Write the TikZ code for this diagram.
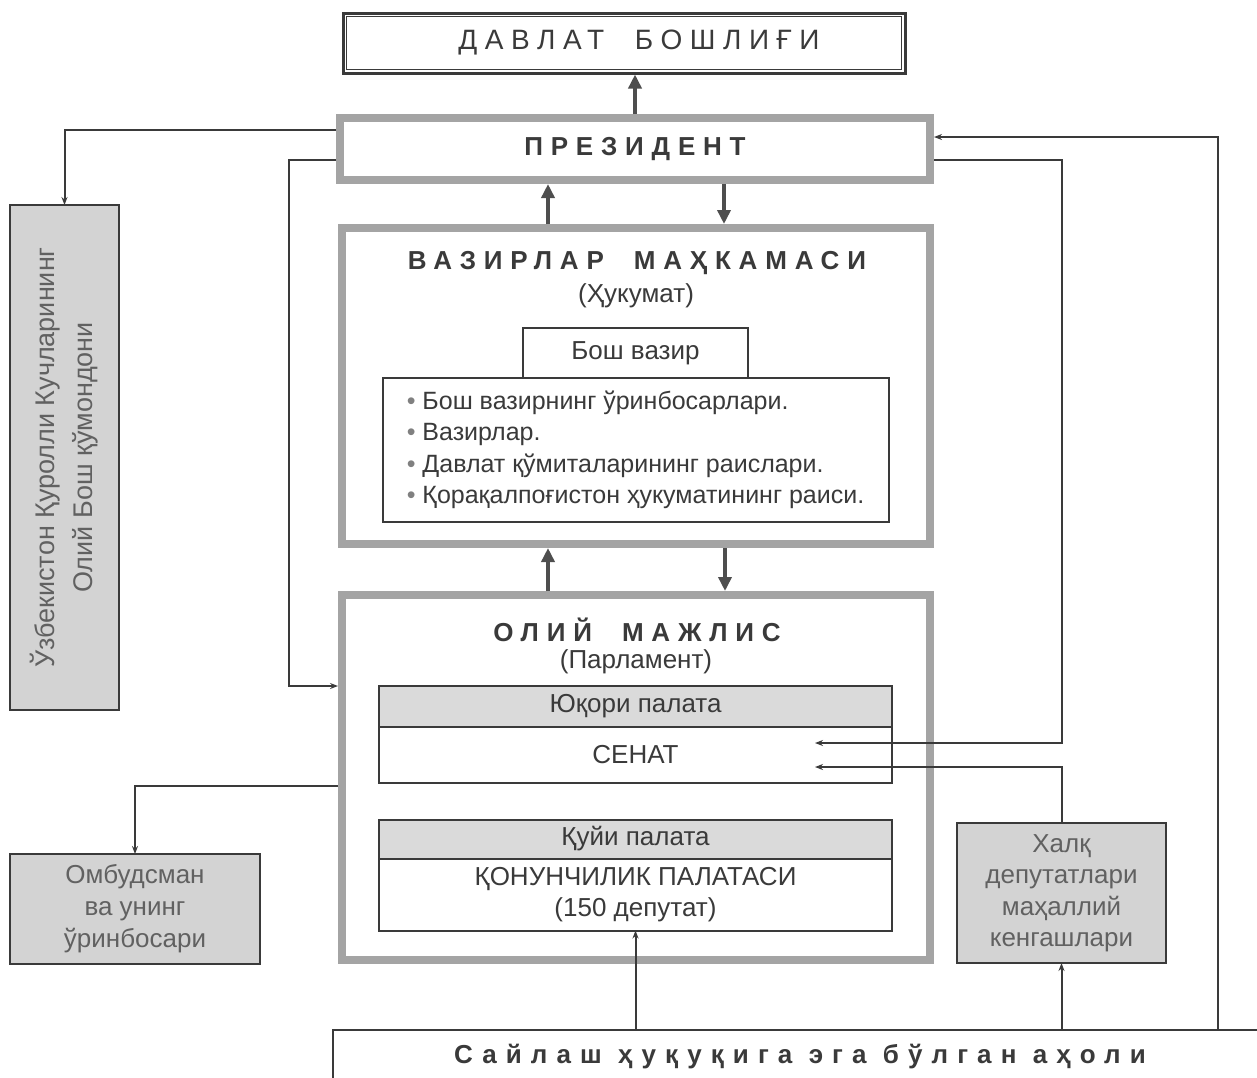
\documentclass[tikz,border=0pt]{standalone}
\usepackage{fontspec}
\setmainfont{Liberation Sans}
\usepackage{tikz}
\usetikzlibrary{positioning,arrows.meta,calc}
\definecolor{frame}{HTML}{A4A4A4}
\definecolor{ink}{HTML}{3A3A3A}
\definecolor{shade}{HTML}{D3D3D3}
\definecolor{pale}{HTML}{DADADA}
\newcommand{\spaced}{\addfontfeature{LetterSpace=30}}

\begin{document}
\begin{tikzpicture}[x=1pt,y=-1pt,
  every node/.style={text=ink,font=\fontsize{26}{31}\selectfont,inner sep=0pt,outer sep=0pt},
  titlefont/.style={font=\fontsize{26}{30}\selectfont\bfseries\spaced},
  bigbox/.style={draw=frame,line width=8pt,fill=white,minimum width=588pt,outer sep=4pt},
  box/.style={draw=ink,line width=2pt,fill=white,minimum width=513pt},
  greybox/.style={draw=ink,line width=2pt,fill=shade,text=ink!80,align=center},
  link/.style={draw=ink,line width=2pt,-{Stealth[length=8pt,width=6pt]}},
  heavy/.style={draw=ink!90,line width=4pt,-{Triangle[length=14pt,width=13pt]}}]
\useasboundingbox (0,0) rectangle (1257,1077);

\node (head) [draw=ink,line width=3pt,minimum width=562pt,minimum height=60pt,outer sep=1.5pt,font=\fontsize{28}{30}\selectfont\addfontfeature{LetterSpace=27}] at (624,43) {\hspace*{30pt}ДАВЛАТ\ \ БОШЛИҒИ};
\draw [ink,line width=1.2pt] ([shift={(5,5)}]head.north west) rectangle ([shift={(-5,-5)}]head.south east);

\node (pres) [bigbox,minimum width=590pt,minimum height=62pt,titlefont] at (635,149) {ПРЕЗИДЕНТ};

\node (vm) [bigbox,minimum height=316pt] at (636,386) {};
\node (vmtitle) [titlefont] at (637,263) {ВАЗИРЛАР\ \ МАҲКАМАСИ};
\node (vmsub) at (636,296) {(Ҳукумат)};
\node (pm) [box,minimum width=225pt,minimum height=50pt] at (635.5,353) {Бош вазир};
\node (list) [box,minimum width=506pt,minimum height=144pt,align=left,font=\fontsize{25}{31.5}\selectfont,below=0pt of pm] {{\color{gray}•} Бош вазирнинг ўринбосарлари.\\
{\color{gray}•} Вазирлар.\\
{\color{gray}•} Давлат қўмиталарининг раислари.\\
{\color{gray}•} Қорақалпоғистон ҳукуматининг раиси.};

\node (om) [bigbox,minimum height=365pt] at (636,777.5) {};
\node (omtitle) [titlefont] at (637,630) {ОЛИЙ\ \ МАЖЛИС};
\node (omsub) at (636,662) {(Парламент)};
\node (senhead) [box,fill=pale,minimum height=41pt] at (635.5,706.5) {Юқори палата};
\node (sen) [box,minimum height=56pt,below=0pt of senhead] {СЕНАТ};
\node (lowhead) [box,fill=pale,minimum height=39pt] at (635.5,839) {Қуйи палата};
\node (low) [box,minimum height=72pt,align=center,below=0pt of lowhead] {ҚОНУНЧИЛИК ПАЛАТАСИ\\(150 депутат)};

\node (mil) [greybox,rotate=90,minimum width=505pt,minimum height=109pt,font=\fontsize{27}{38}\selectfont] at (64.5,457.5) {Ўзбекистон Қуролли Кучларининг\\Олий Бош қўмондони};
\node (omb) [greybox,minimum width=250pt,minimum height=110pt,font=\fontsize{26}{32}\selectfont] at (135,909) {Омбудсман\\ва унинг\\ўринбосари};
\node (halq) [greybox,minimum width=209pt,minimum height=140pt,font=\fontsize{26}{31.5}\selectfont] at (1061.5,893) {Халқ\\депутатлари\\маҳаллий\\кенгашлари};
\node (voters) [draw=ink,line width=2pt,fill=white,minimum width=934pt,minimum height=54pt,font=\fontsize{26}{30}\selectfont\bfseries\addfontfeature{LetterSpace=35}] at (800,1057) {Сайлаш ҳуқуқига эга бўлган аҳоли};

\draw [heavy] (pres.north) -- (pres.north |- head.south);
\draw [heavy] ([xshift=-88pt]vm.north) -- ([xshift=-88pt]vm.north |- pres.south);
\draw [heavy] ([xshift=89pt]pres.south) -- ([xshift=89pt]pres.south |- vm.north);
\draw [heavy] ([xshift=-88pt]om.north) -- ([xshift=-88pt]om.north |- vm.south);
\draw [heavy] ([xshift=89pt]vm.south) -- ([xshift=89pt]vm.south |- om.north);

\coordinate (senA) at ([xshift=-77pt,yshift=12pt]sen.east);
\coordinate (senB) at ([xshift=-77pt,yshift=-12pt]sen.east);

\draw [link] ([yshift=19pt]pres.west) -| (mil.east);
\draw [link] ([yshift=-11pt]pres.west) -- ++(-47,0) |- ([yshift=91.5pt]om.west);
\draw [link] ([yshift=-8pt]om.west) -| (omb.north);
\draw [link] ([yshift=-11pt]pres.east) -| (halq.north |- senA) -- (senA);
\draw [link] (halq.north) |- (senB);
\draw [link] (low.south |- voters.north) -- (low.south);
\draw [link] (halq.south |- voters.north) -- (halq.south);
\draw [link] ([xshift=418pt]voters.north) |- ([yshift=12pt]pres.east);
\end{tikzpicture}
\end{document}
